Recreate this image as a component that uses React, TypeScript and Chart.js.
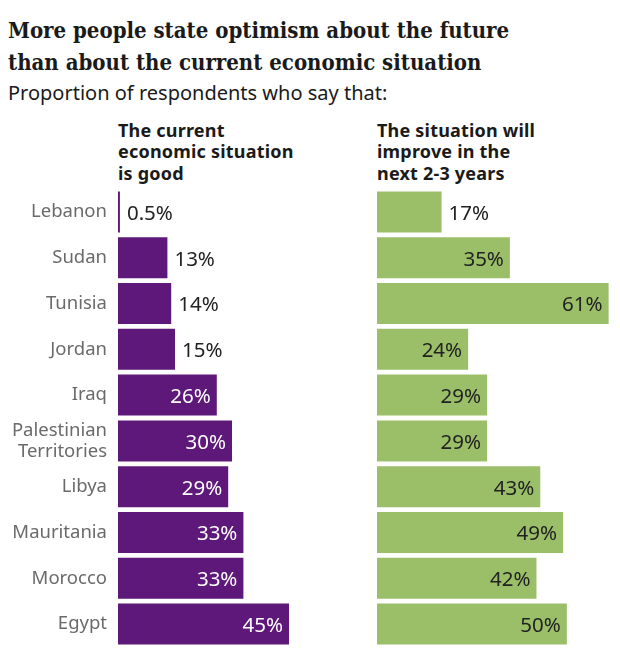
import React, { useEffect, useRef } from "react";
import { Chart, registerables } from "chart.js";

Chart.register(...registerables);

const countries: (string | string[])[] = [
  "Lebanon",
  "Sudan",
  "Tunisia",
  "Jordan",
  "Iraq",
  ["Palestinian", "Territories"],
  "Libya",
  "Mauritania",
  "Morocco",
  "Egypt",
];
const currentGood = [0.5, 13, 14, 15, 26, 30, 29, 33, 33, 45];
const willImprove = [17, 35, 61, 24, 29, 29, 43, 49, 42, 50];
const currentLabels = ["0.5%", "13%", "14%", "15%", "26%", "30%", "29%", "33%", "33%", "45%"];
const improveLabels = ["17%", "35%", "61%", "24%", "29%", "29%", "43%", "49%", "42%", "50%"];

const PURPLE = "#5e1879";
const GREEN = "#9bbf68";
const FONT = "'Noto Sans', sans-serif";

function makeLabelPlugin(labels: string[], insideColor: string) {
  return {
    id: "valueLabels",
    afterDatasetsDraw(chart: any) {
      const ctx = chart.ctx;
      const meta = chart.getDatasetMeta(0);
      const data = chart.data.datasets[0].data as number[];
      ctx.save();
      ctx.font = `20.5px ${FONT}`;
      ctx.textBaseline = "middle";
      meta.data.forEach((bar: any, i: number) => {
        const v = data[i];
        const inside = v >= 20;
        if (inside) {
          ctx.fillStyle = insideColor;
          ctx.textAlign = "right";
          ctx.fillText(labels[i], bar.x - 6, bar.y + 2);
        } else {
          ctx.fillStyle = "#222222";
          ctx.textAlign = "left";
          ctx.fillText(labels[i], bar.x + 7, bar.y + 2);
        }
      });
      ctx.restore();
    },
  };
}

function BarPanel(props: {
  values: number[];
  labels: string[];
  color: string;
  insideColor: string;
  showY: boolean;
  max: number;
  style: React.CSSProperties;
  width: number;
  height: number;
}) {
  const ref = useRef<HTMLCanvasElement | null>(null);
  useEffect(() => {
    if (!ref.current) return;
    const chart = new Chart(ref.current, {
      type: "bar",
      data: {
        labels: countries,
        datasets: [
          {
            data: props.values,
            backgroundColor: props.color,
            borderWidth: 0,
            categoryPercentage: 1,
            barPercentage: 0.895,
          },
        ],
      },
      options: {
        indexAxis: "y",
        responsive: false,
        animation: false,
        maintainAspectRatio: false,
        layout: { padding: 0 },
        plugins: {
          legend: { display: false },
          tooltip: { enabled: false },
          title: { display: false },
        },
        scales: {
          x: {
            display: false,
            min: 0,
            max: props.max,
          },
          y: {
            display: props.showY,
            grid: { display: false, drawTicks: false },
            border: { display: false },
            ticks: {
              color: "#6a6a6a",
              font: { family: FONT, size: 18.5, lineHeight: 1.15 },
              padding: 11,
              autoSkip: false,
            },
            afterFit: (scale: any) => {
              if (props.showY) scale.width = 118;
              scale.paddingTop = 0;
              scale.paddingBottom = 0;
            },
          },
        },
      },
      plugins: [makeLabelPlugin(props.labels, props.insideColor)],
    });
    return () => chart.destroy();
  }, []);
  return (
    <canvas
      ref={ref}
      width={props.width}
      height={props.height}
      style={{ position: "absolute", width: props.width, height: props.height, ...props.style }}
    />
  );
}

export default function App() {
  const headerStyle: React.CSSProperties = {
    position: "absolute",
    top: 120,
    fontFamily: FONT,
    fontWeight: 700,
    fontSize: 18,
    letterSpacing: "0.2px",
    lineHeight: "21.3px",
    color: "#1a1a1a",
    whiteSpace: "nowrap",
  };
  return (
    <div style={{ position: "absolute", left: 0, top: 0, width: 620, height: 651, background: "#fff" }}>
      <div
        style={{
          position: "absolute",
          left: 8,
          top: 14,
          fontFamily: "'DejaVu Serif', serif",
          fontWeight: 700,
          fontStretch: "condensed",
          fontSize: 22,
          lineHeight: "32px",
          color: "#1a1a1a",
          whiteSpace: "nowrap",
        }}
      >
        More people state optimism about the future
        <br />
        than about the current economic situation
      </div>
      <div
        style={{
          position: "absolute",
          left: 8,
          top: 80,
          fontFamily: FONT,
          fontSize: 20,
          lineHeight: "26px",
          color: "#1a1a1a",
          whiteSpace: "nowrap",
        }}
      >
        Proportion of respondents who say that:
      </div>
      <div style={{ ...headerStyle, left: 118 }}>
        The current
        <br />
        economic situation
        <br />
        is good
      </div>
      <div style={{ ...headerStyle, left: 377 }}>
        The situation will
        <br />
        improve in the
        <br />
        next 2-3 years
      </div>
      <BarPanel
        values={currentGood}
        labels={currentLabels}
        color={PURPLE}
        insideColor="#ffffff"
        showY={true}
        max={60}
        width={346}
        height={458}
        style={{ left: 0, top: 189 }}
      />
      <BarPanel
        values={willImprove}
        labels={improveLabels}
        color={GREEN}
        insideColor="#222222"
        showY={false}
        max={64}
        width={243}
        height={458}
        style={{ left: 377, top: 189 }}
      />
    </div>
  );
}
